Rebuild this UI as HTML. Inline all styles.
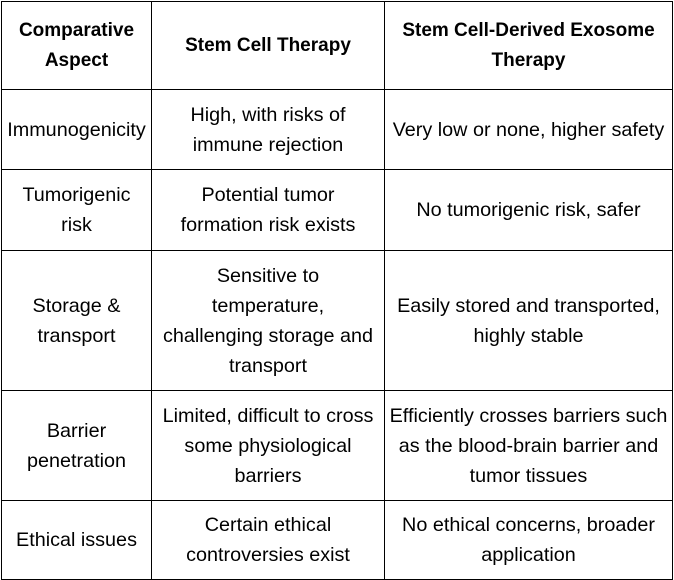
<!DOCTYPE html>
<html><head><meta charset="utf-8"><style>
html,body{margin:0;padding:0;background:#fff;width:674px;height:580px;overflow:hidden}
table{position:absolute;left:1px;top:1px;border-collapse:collapse;font-family:"Liberation Sans",sans-serif;font-size:19.8px;color:#000;table-layout:fixed}
td,th{border:1.5px solid #000;text-align:center;vertical-align:middle;line-height:30px;padding:0 1px;white-space:nowrap}
th{font-weight:bold;font-size:19px}
</style></head><body>
<table>
<colgroup><col style="width:150px"><col style="width:233px"><col style="width:288px"></colgroup>
<tr style="height:88px">
<th>Comparative<br>Aspect</th>
<th>Stem Cell Therapy</th>
<th>Stem Cell-Derived Exosome<br>Therapy</th></tr>
<tr style="height:80px">
<td>Immunogenicity</td>
<td>High, with risks of<br>immune rejection</td>
<td>Very low or none, higher safety</td></tr>
<tr style="height:81px">
<td>Tumorigenic<br>risk</td>
<td>Potential tumor<br>formation risk exists</td>
<td>No tumorigenic risk, safer</td></tr>
<tr style="height:140px">
<td>Storage &amp;<br>transport</td>
<td>Sensitive to<br>temperature,<br>challenging storage and<br>transport</td>
<td>Easily stored and transported,<br>highly stable</td></tr>
<tr style="height:110px">
<td>Barrier<br>penetration</td>
<td>Limited, difficult to cross<br>some physiological<br>barriers</td>
<td>Efficiently crosses barriers such<br>as the blood-brain barrier and<br>tumor tissues</td></tr>
<tr style="height:79px">
<td>Ethical issues</td>
<td>Certain ethical<br>controversies exist</td>
<td>No ethical concerns, broader<br>application</td></tr>
</table>
</body></html>
